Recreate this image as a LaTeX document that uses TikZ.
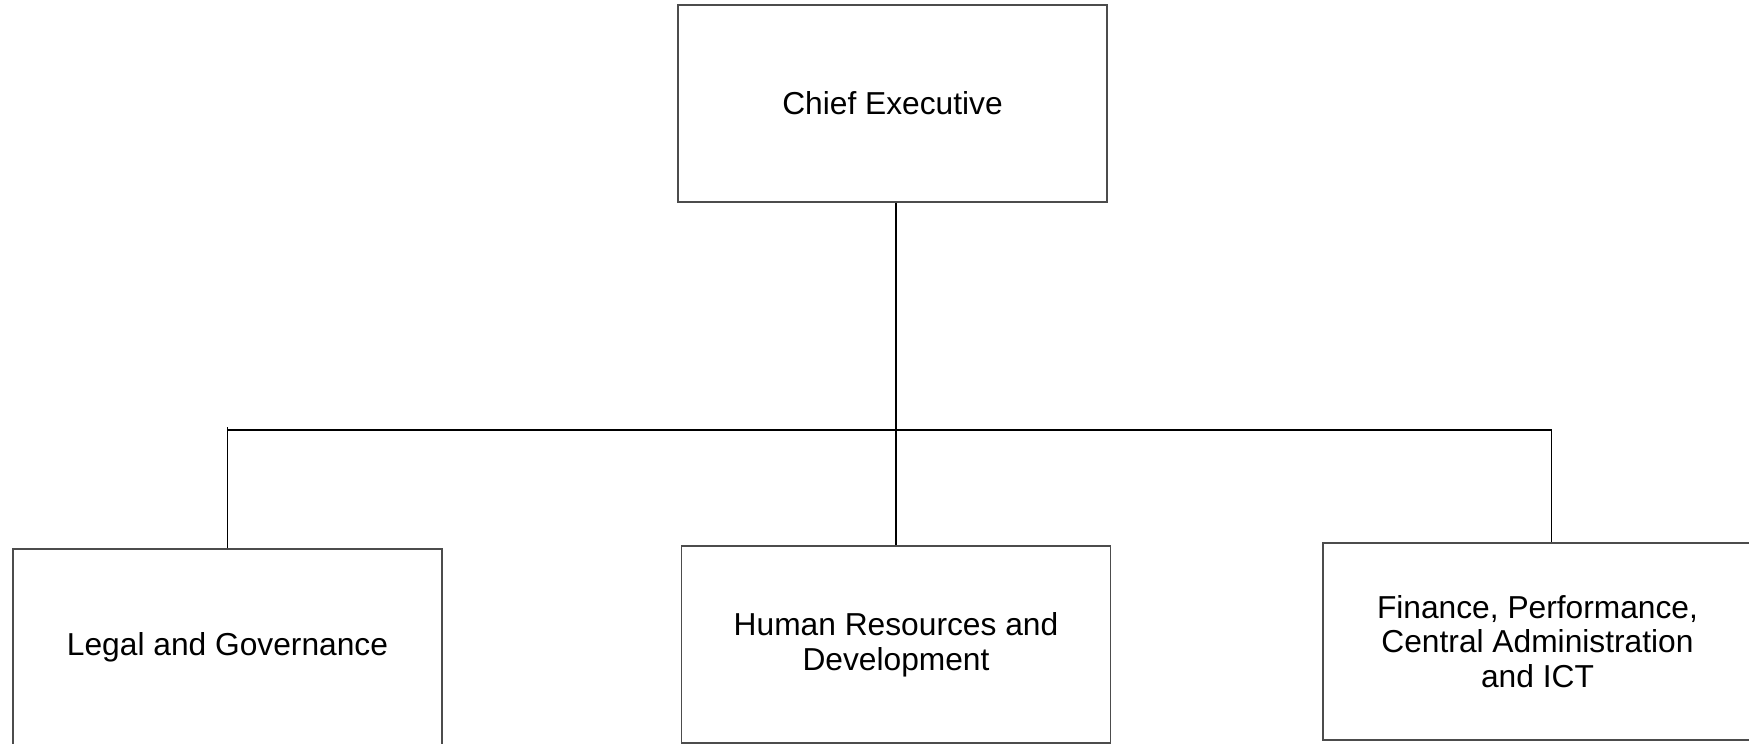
\documentclass[tikz,border=0pt]{standalone}
\usepackage{fontspec}
\setmainfont{Liberation Sans}
\usetikzlibrary{calc}
\tikzset{
  unitbox/.style={draw=black!70,line width=1pt,rectangle,align=center,
    minimum width=321.75pt,minimum height=147.75pt,inner sep=0pt,
    font=\fontsize{23.8}{26}\selectfont},
  link/.style={draw=black,line width=0.8pt}
}
\begin{document}
\begin{tikzpicture}[x=0.75pt,y=-0.75pt]
    \useasboundingbox (0,0) rectangle (1749,743);
    \node[unitbox](ce)  at (892.5,103.5) {Chief Executive};
    \node[unitbox](lg)  at (227.5,647.5) {Legal and Governance};
    \node[unitbox](hr)  at (896,644.5)   {Human Resources and\\Development};
    \node[unitbox](fin) at (1537.5,641.5) {Finance, Performance,\\Central Administration\\and ICT};
    \coordinate(bus) at (0,430);
    \coordinate(finin) at ([xshift=10.5pt]fin.north);
    \path[link]
      (hr.north |- ce.south) edge (hr.north)
      ;
    \draw[link] (lg.north) -- ($(lg.north |- bus)+(0,-3)$);
    \draw[link] (lg.north |- bus) -- (finin |- bus) -- (finin);
\end{tikzpicture}
\end{document}
